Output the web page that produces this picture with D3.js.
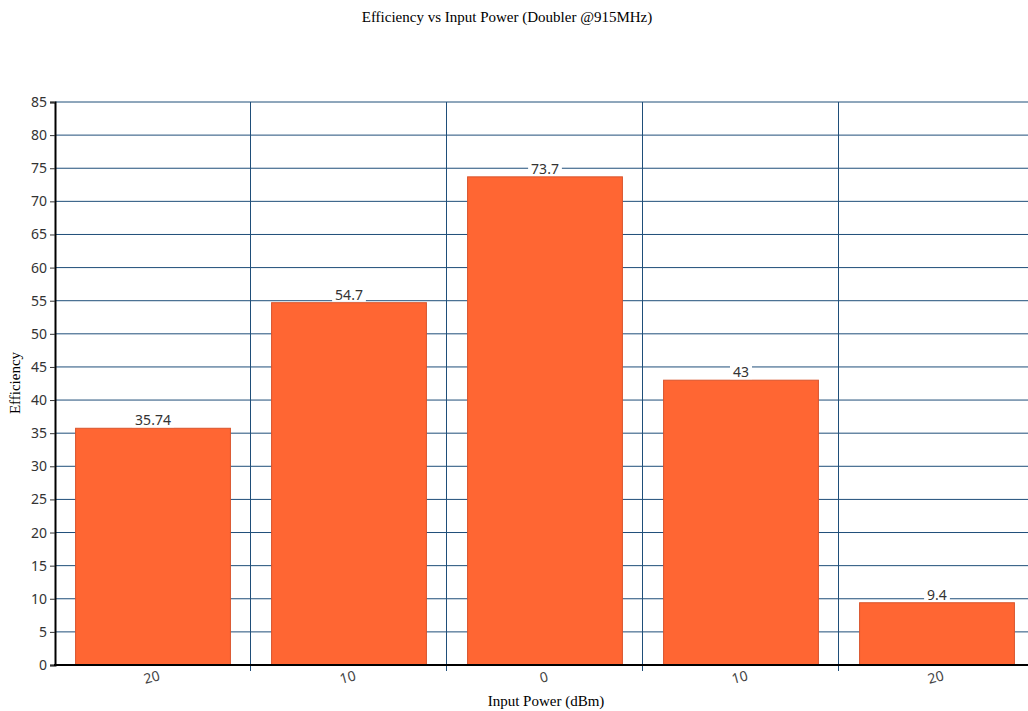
<!DOCTYPE html>
<html><head><meta charset="utf-8">
<script src="https://cdn.jsdelivr.net/npm/d3@7"></script>
<style>body{margin:0;background:#fff}svg{display:block}</style>
</head><body>
<svg id="c" width="1028" height="711"></svg>
<script>
const categories = ["20", "10", "0", "10", "20"];
const values = [35.74, 54.7, 73.7, 43, 9.4];
const valueLabels = ["35.74", "54.7", "73.7", "43", "9.4"];
const yTicks = d3.range(0, 86, 5);

const svg = d3.select("#c");
const m = {l: 55, t: 102, b: 665};
const x = d3.scaleBand().domain(d3.range(categories.length)).range([m.l, m.l + 196 * 5]).paddingInner(0.21).paddingOuter(0.105);
const y = d3.scaleLinear().domain([0, 85]).range([m.b, m.t]);
const sans = "'Noto Sans', 'Open Sans', sans-serif";
const serif = "'Liberation Serif', 'Times New Roman', serif";

// horizontal grid
svg.append("g").selectAll("line").data(yTicks.filter(d => d > 0)).join("line")
  .attr("x1", m.l).attr("x2", 1028).attr("y1", d => y(d)).attr("y2", d => y(d))
  .attr("stroke", "#1f4e79").attr("stroke-width", 1);
// vertical grid at band boundaries
const bounds = d3.range(1, categories.length).map(i => m.l + 196 * i - 0.5);
svg.append("g").selectAll("line").data(bounds).join("line")
  .attr("x1", d => d).attr("x2", d => d).attr("y1", m.t).attr("y2", m.b + 6)
  .attr("stroke", "#1f4e79").attr("stroke-width", 1);

// bars
svg.append("g").selectAll("rect").data(values).join("rect")
  .attr("x", (d, i) => x(i)).attr("width", x.bandwidth())
  .attr("y", d => y(d)).attr("height", d => y(0) - y(d))
  .attr("fill", "#ff6633").attr("stroke", "#d9542c").attr("stroke-width", 1);

// value labels with white background
const lab = svg.append("g").selectAll("g").data(values).join("g")
  .attr("transform", (d, i) => `translate(${x(i) + x.bandwidth() / 2},${y(d)})`);
lab.append("rect").attr("x", -20).attr("y", -15).attr("height", 14)
  .attr("fill", "#fff");
lab.append("text").text((d, i) => valueLabels[i]).attr("text-anchor", "middle")
  .attr("y", -3).attr("font-family", sans).attr("font-size", 14).attr("fill", "#333");
lab.each(function() {
  const t = d3.select(this).select("text").node().getBBox();
  d3.select(this).select("rect").attr("x", t.x - 3).attr("width", t.width + 6);
});

// y axis
const ya = svg.append("g").attr("transform", `translate(${m.l},0)`)
  .call(d3.axisLeft(y).tickValues(yTicks).tickSize(5).tickPadding(3));
ya.select(".domain").attr("stroke", "#000").attr("stroke-width", 2);
ya.selectAll(".tick line").attr("stroke", "#333");
ya.selectAll("text").attr("font-family", sans).attr("font-size", 14).attr("fill", "#333");

// x axis
svg.append("line").attr("x1", m.l - 1).attr("x2", 1028).attr("y1", m.b).attr("y2", m.b)
  .attr("stroke", "#000").attr("stroke-width", 2);
const xa = svg.append("g").attr("transform", `translate(0,${m.b})`);
xa.selectAll("text").data(categories).join("text")
  .attr("transform", (d, i) => `translate(${x(i) + x.bandwidth() / 2},${17}) rotate(-15)`)
  .attr("text-anchor", "middle").attr("font-family", sans).attr("font-size", 14).attr("fill", "#444")
  .text(d => d);

// titles
svg.append("text").attr("x", 507).attr("y", 22).attr("text-anchor", "middle")
  .attr("font-family", serif).attr("font-size", 15).attr("fill", "#000")
  .text("Efficiency vs Input Power (Doubler @915MHz)");
svg.append("text").attr("x", 546).attr("y", 706).attr("text-anchor", "middle")
  .attr("font-family", serif).attr("font-size", 15).attr("fill", "#000")
  .text("Input Power (dBm)");
svg.append("text").attr("transform", "translate(20,383) rotate(-90)").attr("text-anchor", "middle")
  .attr("font-family", serif).attr("font-size", 15).attr("fill", "#000")
  .text("Efficiency");
</script>
</body></html>
